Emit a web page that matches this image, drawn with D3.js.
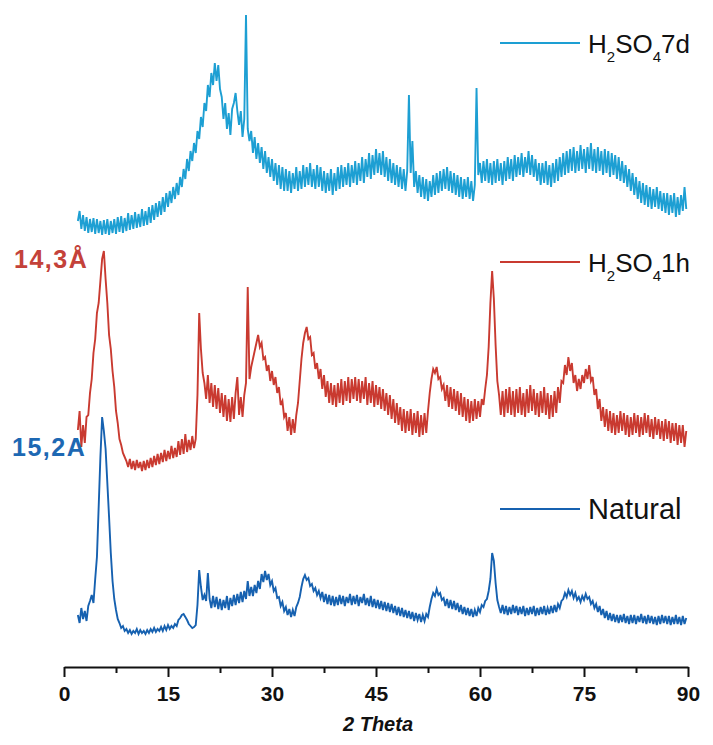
<!DOCTYPE html>
<html>
<head>
<meta charset="utf-8">
<script src="https://cdn.jsdelivr.net/npm/d3@7"></script>
<style>
  html, body { margin: 0; padding: 0; background: #fff; }
  svg { display: block; font-family: "Liberation Sans", Arial, sans-serif; }
</style>
</head>
<body>
<svg id="chart" width="713" height="745"></svg>
<script>
// 2θ sampling of the diffractograms (degrees)
const thetaStart = 2.0;
const thetaStep = 0.25;

// X axis ticks
const majorTicks = [0, 15, 30, 45, 60, 75, 90];
const minorTicks = [7.5, 22.5, 37.5, 52.5, 67.5, 82.5];

// Series names, colours and vertical offsets of the stacked patterns (a.u.)
const seriesNames = ["Natural", "H2SO41h", "H2SO47d"];
const seriesColors = ["#1661b0", "#c93a30", "#1d9fd3"];
const seriesOffsets = [20, 190, 420];

// Intensities (a.u.), one value every 0.25° from 2.0° to 89.75°
const natural = [
  30,22,37,26,34,24,39,44,50,42,66,88,138,188,228,214,196,162,128,92,
  64,46,35,26,22,17,19,14,16,12,15,11,14,12,16,11,15,12,14,11,
  15,12,16,13,17,13,16,14,18,14,19,15,20,16,19,17,21,19,25,27,
  30,31,28,25,21,19,17,18,20,40,75,58,45,50,44,72,46,37,49,38,
  48,36,46,35,45,37,49,35,47,39,50,40,51,42,53,43,54,46,64,49,
  58,49,60,52,64,56,71,63,74,65,71,60,64,54,57,47,48,39,43,34,
  38,30,36,28,35,29,38,42,48,58,66,70,65,67,59,61,54,57,50,54,
  47,53,43,51,41,50,40,49,39,48,40,50,41,49,39,48,42,51,40,49,
  41,50,39,48,42,51,40,47,39,49,38,46,37,45,36,44,35,43,34,42,
  33,41,32,39,30,38,29,37,28,35,27,34,26,33,24,32,25,31,23,30,
  24,31,28,38,46,52,49,56,50,52,45,47,39,46,37,45,36,44,35,42,
  33,40,31,38,30,37,29,36,28,35,29,37,33,40,38,44,46,54,66,92,
  84,62,45,38,32,40,31,39,30,38,31,40,32,39,30,38,31,39,29,37,
  30,38,31,39,29,37,30,38,31,39,30,37,31,39,32,40,33,41,37,44,
  46,52,48,55,50,54,47,52,45,48,43,49,45,51,46,48,41,44,37,41,
  33,39,30,36,27,34,25,32,24,31,23,30,22,30,23,31,22,29,21,30,
  22,30,21,29,23,31,22,29,21,30,22,29,21,28,20,29,21,30,22,29,
  21,29,20,28,21,30,21,28,20,29,21,27
];

const h1 = [
  45,64,28,50,32,58,60,82,96,122,136,162,172,194,216,224,196,172,140,126,
  104,88,64,52,36,30,22,18,14,8,16,6,14,5,15,7,13,4,14,5,
  15,7,17,8,19,10,21,11,22,13,25,14,24,16,29,17,27,18,34,20,
  36,21,41,23,35,25,39,27,36,80,162,126,102,92,76,100,72,92,68,90,
  66,87,62,82,58,80,54,76,53,78,56,82,98,60,78,58,80,92,188,96,
  108,116,124,132,140,128,132,116,118,104,110,94,104,90,98,82,88,70,74,58,
  62,44,58,40,56,42,60,72,94,116,132,142,148,136,138,120,122,106,112,96,
  106,86,100,78,94,72,92,70,90,68,92,72,96,70,94,74,98,72,96,76,
  98,74,96,72,94,76,98,70,92,72,94,68,90,70,88,66,86,64,82,60,
  80,56,76,52,72,50,68,44,66,42,64,44,66,40,62,42,64,38,60,40,
  62,42,64,82,96,106,102,108,96,98,86,90,74,90,68,88,66,86,64,84,
  60,82,58,78,54,76,52,74,54,76,56,74,58,76,70,86,100,128,172,204,
  176,130,94,80,60,84,58,86,62,88,60,84,58,86,62,88,60,82,58,86,
  62,90,64,86,60,82,58,84,62,88,60,82,56,80,58,84,62,88,72,94,
  92,110,100,118,104,112,92,100,84,96,86,100,92,106,96,110,94,98,80,86,
  66,76,54,68,48,66,44,64,42,62,40,60,42,64,44,62,40,60,38,58,
  40,62,42,60,38,58,40,62,42,60,38,56,36,58,40,56,36,54,34,56,
  36,54,32,52,34,52,30,50,32,50,28,44
];

const d7 = [
  24,34,16,30,14,28,12,26,13,27,11,26,12,24,10,25,11,26,10,24,
  12,26,11,28,13,29,12,27,14,32,15,30,16,33,17,31,18,36,19,34,
  20,38,22,40,25,42,28,44,30,48,33,52,38,54,42,58,46,62,50,68,
  58,76,66,86,74,94,84,102,92,114,106,128,118,142,134,160,148,172,160,182,
  164,180,156,148,126,142,116,132,110,136,142,152,134,120,134,108,126,230,116,104,
  114,92,108,86,102,82,98,76,94,72,88,68,86,64,82,60,80,56,78,54,
  76,54,74,52,72,56,78,54,74,56,80,58,78,60,82,58,76,56,80,58,
  78,54,74,52,72,54,76,50,72,54,78,56,80,58,78,60,82,58,80,62,
  84,60,82,64,88,62,86,68,92,66,90,70,96,72,92,70,94,68,88,64,
  86,62,82,60,80,58,78,56,76,54,74,150,72,104,58,74,52,70,48,68,
  46,66,44,64,48,70,50,72,52,74,54,76,56,78,54,74,52,72,50,70,
  48,68,46,66,48,68,46,64,44,60,157,70,82,62,84,64,86,62,82,60,
  84,62,86,64,82,60,84,64,88,66,86,64,90,68,88,70,92,68,88,72,
  94,70,90,68,86,64,82,60,82,62,84,60,80,58,82,62,86,64,88,68,
  92,70,94,72,96,74,98,72,94,74,100,76,96,72,98,76,102,74,96,72,
  98,74,94,70,96,72,94,68,92,70,90,66,88,64,84,62,80,58,76,54,
  72,50,68,46,64,42,62,40,60,38,58,36,56,38,58,36,54,34,52,32,
  52,30,50,32,52,28,48,30,50,34,58,36
];

const seriesValues = [natural, h1, d7];

// Peak annotations (d-spacing of the basal reflection)
const peakLabels = ["15,2A", "14,3Å"];
const peakLabelColors = ["#1d68b3", "#c4423a"];

const svg = d3.select("#chart");

const x = d3.scaleLinear().domain([0, 90]).range([64, 688]);
const y = d3.scaleLinear().domain([0, 650]).range([665, 15]);

const line = d3.line()
  .x(d => x(d[0]))
  .y(d => y(d[1]));

// Diffraction patterns
seriesValues.forEach((vals, s) => {
  const pts = vals.map((v, i) => [thetaStart + i * thetaStep, v + seriesOffsets[s]]);
  svg.append("path")
    .datum(pts)
    .attr("fill", "none")
    .attr("stroke", seriesColors[s])
    .attr("stroke-width", 1.9)
    .attr("stroke-linejoin", "miter")
    .attr("d", line);
});

// X axis
const axisY = 667;
const gMinor = svg.append("g")
  .attr("transform", `translate(0,${axisY})`)
  .call(d3.axisBottom(x).tickValues(minorTicks).tickSize(6).tickSizeOuter(0).tickFormat(""));
gMinor.select(".domain").remove();
gMinor.selectAll("line").attr("stroke", "#111").attr("stroke-width", 2);

const gMajor = svg.append("g")
  .attr("transform", `translate(0,${axisY})`)
  .call(d3.axisBottom(x).tickValues(majorTicks).tickSize(10).tickSizeOuter(0).tickPadding(9));
gMajor.select(".domain").attr("stroke", "#111").attr("stroke-width", 2);
gMajor.selectAll("line").attr("stroke", "#111").attr("stroke-width", 2);
gMajor.selectAll("text")
  .attr("fill", "#111")
  .style("font-family", "'Liberation Sans', Arial, sans-serif")
  .style("font-size", "21px")
  .style("font-weight", "bold");

svg.append("text")
  .attr("x", x(45) + 2)
  .attr("y", 731)
  .attr("text-anchor", "middle")
  .attr("fill", "#111")
  .style("font-size", "20px")
  .style("font-weight", "bold")
  .style("font-style", "italic")
  .text("2 Theta");

// Legend entries, each sitting above its own pattern
const legendRows = [
  { s: 0, y: 509, size: 29, parts: [["Natural", false]] },
  { s: 1, y: 262, size: 26, parts: [["H", false], ["2", true], ["SO", false], ["4", true], ["1h", false]] },
  { s: 2, y: 43,  size: 26, parts: [["H", false], ["2", true], ["SO", false], ["4", true], ["7d", false]] }
];
legendRows.forEach(row => {
  svg.append("line")
    .attr("x1", 500).attr("x2", 580)
    .attr("y1", row.y).attr("y2", row.y)
    .attr("stroke", seriesColors[row.s])
    .attr("stroke-width", 2);
  const t = svg.append("text")
    .attr("x", 588)
    .attr("y", row.y + 10)
    .attr("fill", "#111")
    .style("font-size", row.size + "px");
  let sub = false;
  row.parts.forEach(([str, isSub]) => {
    const ts = t.append("tspan").text(str);
    if (isSub && !sub) { ts.attr("dy", 9).style("font-size", "15px"); sub = true; }
    else if (!isSub && sub) { ts.attr("dy", -9); sub = false; }
    else if (isSub) { ts.style("font-size", "15px"); }
  });
});

// d-spacing labels next to the basal peaks
svg.append("text")
  .attr("x", 12).attr("y", 456)
  .attr("fill", peakLabelColors[0])
  .style("font-size", "25px").style("font-weight", "bold")
  .style("letter-spacing", "1.5px")
  .text(peakLabels[0]);
svg.append("text")
  .attr("x", 14).attr("y", 268)
  .attr("fill", peakLabelColors[1])
  .style("font-size", "25px").style("font-weight", "bold")
  .style("letter-spacing", "1.5px")
  .text(peakLabels[1]);
</script>
</body>
</html>
